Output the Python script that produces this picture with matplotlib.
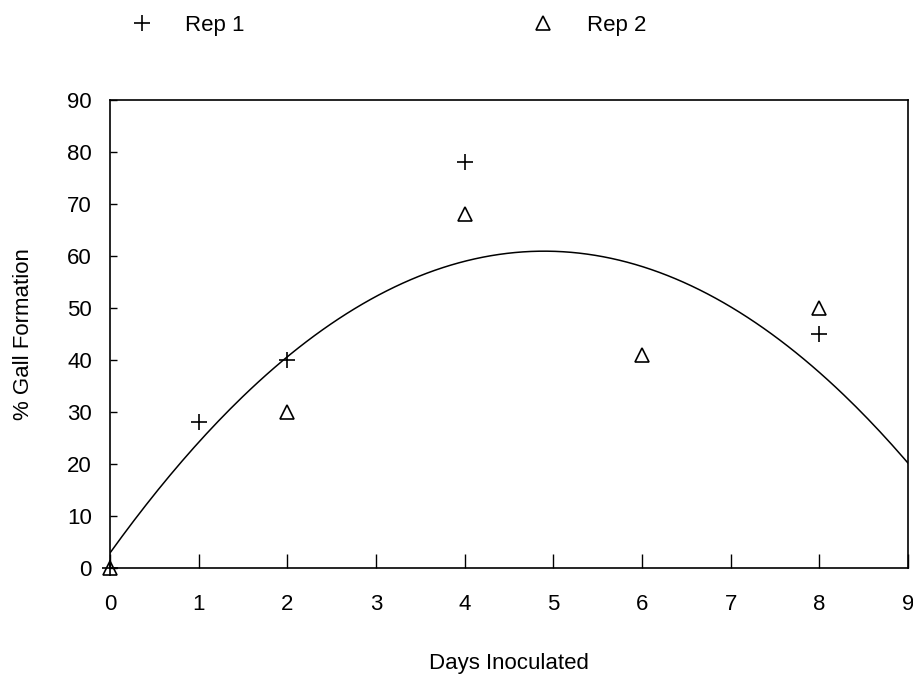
import numpy as np
import matplotlib.pyplot as plt
from matplotlib.lines import Line2D

plt.rcParams['font.family'] = ['Liberation Sans', 'DejaVu Sans']

# percent gall formation by days inoculated, two replicates
rep1_days = [0, 1, 2, 4, 8]
rep1_gall = [0, 28, 40, 78, 45]
rep2_days = [0, 2, 4, 6, 8]
rep2_gall = [0, 30, 68, 41, 50]

# fitted quadratic shown in the figure: a + b*x + c*x^2
fit_a = 2.9
fit_b = 23.7
fit_c = -2.42

xs = np.linspace(0, 9, 200)
ys = fit_a + fit_b * xs + fit_c * xs ** 2

fig = plt.figure(figsize=(9.13, 6.75), dpi=100)
ax = fig.add_axes([0.1205, 0.1585, 0.874, 0.6934])

ax.plot(xs, ys, color='black', linewidth=1.1)
ax.plot(rep1_days, rep1_gall, linestyle='none', marker='+', markersize=11,
        markeredgewidth=1.2, color='black', clip_on=False)
ax.plot(rep2_days, rep2_gall, linestyle='none', marker='^', markersize=10,
        markerfacecolor='none', markeredgecolor='black', markeredgewidth=1.2,
        clip_on=False)

ax.set_xlim(0, 9)
ax.set_ylim(0, 90)
ax.set_xticks(range(0, 10))
ax.set_yticks(range(0, 100, 10))
ax.tick_params(axis='x', direction='in', length=10, width=1, pad=19,
               labelsize=16, top=False)
ax.tick_params(axis='y', direction='in', length=5, width=1, pad=13,
               labelsize=16, right=False)
for s in ax.spines.values():
    s.set_linewidth(1.2)

ax.set_xlabel('Days Inoculated', fontsize=16, labelpad=27)
ax.set_ylabel('% Gall Formation', fontsize=16, labelpad=24)

handles = [
    Line2D([], [], linestyle='none', marker='+', markersize=11,
           markeredgewidth=1.2, color='black'),
    Line2D([], [], linestyle='none', marker='^', markersize=10,
           markerfacecolor='none', markeredgecolor='black', markeredgewidth=1.2),
]
fig.legend(handles, ['Rep 1', 'Rep 2'], ncol=2, frameon=False, fontsize=16,
           loc='upper left', bbox_to_anchor=(0.115, 1.008), handlelength=1.5,
           handletextpad=1.2, columnspacing=12.7)

fig.savefig('out.png', dpi=100)
